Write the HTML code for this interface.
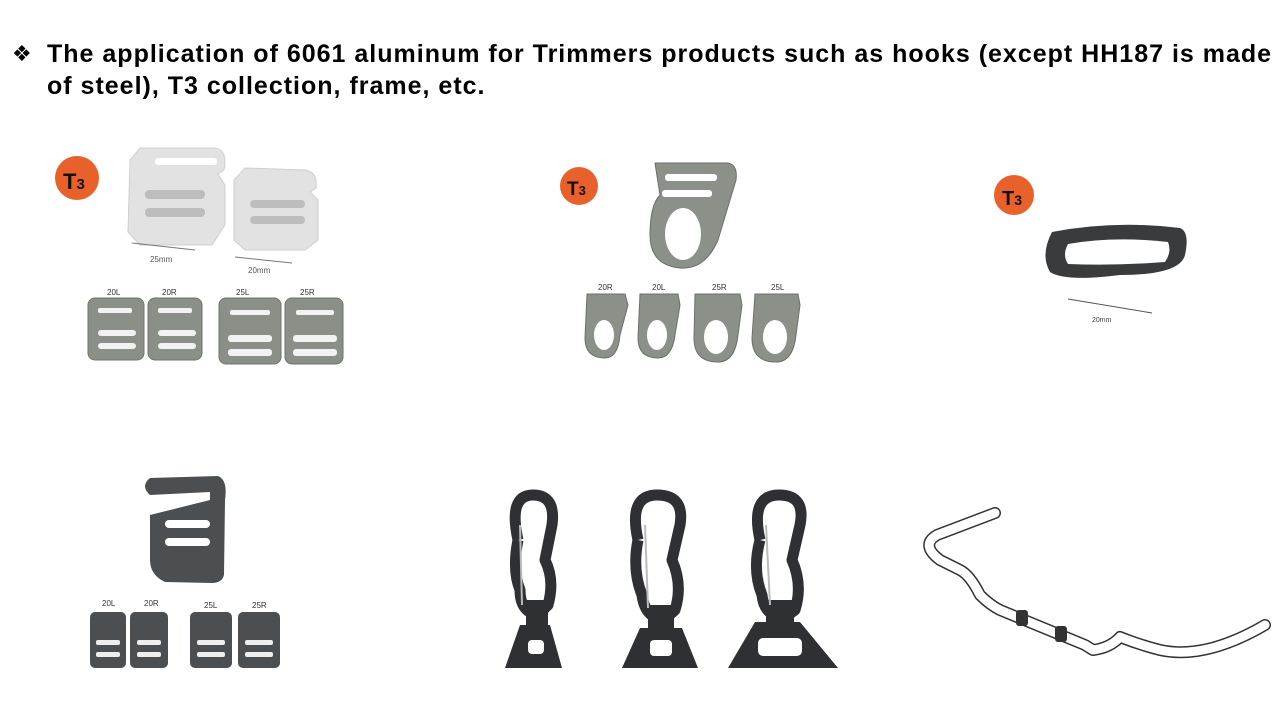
<!DOCTYPE html>
<html><head><meta charset="utf-8"><style>
body{margin:0;width:1280px;height:720px;background:#fff;overflow:hidden;position:relative;font-family:"Liberation Sans",Arial,sans-serif}
.t{position:absolute;left:47px;font-weight:bold;font-size:25px;color:#000;white-space:nowrap;letter-spacing:1px}
</style></head><body>
<div style="position:absolute;left:12px;top:42px;font-size:22px;font-family:'DejaVu Sans',sans-serif">❖</div>
<div class="t" style="top:40px">The application of 6061 aluminum for Trimmers products such as hooks (except HH187 is made</div>
<div class="t" style="top:72px">of steel), T3 collection, frame, etc.</div>
<svg width="1280" height="720" style="position:absolute;left:0;top:0" font-family="Liberation Sans,sans-serif">
<!-- T3 badges -->
<g font-weight="bold" fill="#111">
<circle cx="77" cy="178" r="22" fill="#e8612a"/><text x="63" y="189" font-size="22">T<tspan font-size="15">3</tspan></text>
<circle cx="579" cy="186" r="19" fill="#e8612a"/><text x="567" y="195" font-size="19">T<tspan font-size="13">3</tspan></text>
<circle cx="1014" cy="195" r="20" fill="#e8612a"/><text x="1002" y="205" font-size="20">T<tspan font-size="14">3</tspan></text>
</g>
<!-- silver buckles -->
<path d="M140,148 L215,148 Q228,150 224,170 L218,174 L225,185 L225,225 L212,245 L140,245 L128,232 L130,160Z" fill="#e2e2e2" stroke="#cfcfcf"/>
<rect x="155" y="158" width="62" height="7" rx="3" fill="#fff"/>
<rect x="145" y="190" width="60" height="9" rx="4" fill="#bdbdbd"/><rect x="145" y="208" width="60" height="9" rx="4" fill="#bdbdbd"/>
<path d="M245,168 L305,170 Q318,172 316,188 L310,192 L318,200 L318,240 L305,250 L245,250 L234,240 L234,180Z" fill="#e2e2e2" stroke="#cfcfcf"/>
<rect x="250" y="200" width="55" height="8" rx="4" fill="#bdbdbd"/><rect x="250" y="216" width="55" height="8" rx="4" fill="#bdbdbd"/>
<line x1="132" y1="243" x2="195" y2="250" stroke="#777"/><line x1="235" y1="257" x2="292" y2="263" stroke="#777"/>
<text x="150" y="262" font-size="8" fill="#555">25mm</text><text x="248" y="273" font-size="8" fill="#555">20mm</text>
<g font-size="8" fill="#333"><text x="107" y="295">20L</text><text x="162" y="295">20R</text><text x="236" y="295">25L</text><text x="300" y="295">25R</text>
<text x="598" y="290">20R</text><text x="652" y="290">20L</text><text x="712" y="290">25R</text><text x="771" y="290">25L</text>
<text x="102" y="606">20L</text><text x="144" y="606">20R</text><text x="204" y="608">25L</text><text x="252" y="608">25R</text></g>
<g fill="#8a8f87" stroke="#6f736c">
<rect x="88" y="298" width="56" height="62" rx="7"/><rect x="148" y="298" width="54" height="62" rx="7"/>
<rect x="219" y="298" width="62" height="66" rx="7"/><rect x="285" y="298" width="58" height="66" rx="7"/>
</g>
<g fill="#f2f2f2">
<rect x="98" y="308" width="34" height="5" rx="2"/><rect x="98" y="330" width="38" height="6" rx="3"/><rect x="98" y="343" width="38" height="6" rx="3"/>
<rect x="158" y="308" width="34" height="5" rx="2"/><rect x="158" y="330" width="38" height="6" rx="3"/><rect x="158" y="343" width="38" height="6" rx="3"/>
<rect x="230" y="310" width="40" height="5" rx="2"/><rect x="228" y="335" width="44" height="7" rx="3"/><rect x="228" y="349" width="44" height="7" rx="3"/>
<rect x="296" y="310" width="38" height="5" rx="2"/><rect x="293" y="335" width="44" height="7" rx="3"/><rect x="293" y="349" width="44" height="7" rx="3"/>
</g>
<!-- middle top hook -->
<path d="M655,163 L728,163 Q738,165 736,180 L718,240 Q705,270 680,268 Q650,265 650,235 Q650,205 660,195Z" fill="#8b9189" stroke="#6c706a"/>
<rect x="665" y="174" width="52" height="7" rx="3" fill="#fff"/><rect x="662" y="190" width="50" height="7" rx="3" fill="#fff"/>
<ellipse cx="683" cy="234" rx="18" ry="26" fill="#fff"/>
<g fill="#8b9189" stroke="#6c706a">
<path d="M587,294 L625,294 L628,305 L620,335 Q618,358 605,358 Q585,358 585,338Z"/>
<path d="M640,294 L678,294 L680,305 L675,335 Q672,358 658,358 Q638,358 638,338Z"/>
<path d="M695,294 L740,294 L742,305 L738,335 Q735,362 718,362 Q694,362 694,338Z"/>
<path d="M755,294 L798,294 L800,305 L796,335 Q793,362 776,362 Q752,362 752,338Z"/>
</g>
<g fill="#fff"><ellipse cx="604" cy="335" rx="10" ry="15"/><ellipse cx="657" cy="335" rx="10" ry="15"/><ellipse cx="716" cy="337" rx="12" ry="17"/><ellipse cx="775" cy="337" rx="12" ry="17"/></g>
<!-- ring -->
<path d="M1052,232 Q1115,220 1180,228 Q1190,232 1185,255 Q1180,275 1120,275 Q1065,282 1050,272 Q1040,255 1052,232Z" fill="#3a3b3d"/>
<path d="M1068,244 Q1115,236 1168,242 Q1172,252 1165,262 Q1115,266 1068,264 Q1062,255 1068,244Z" fill="#fff"/>
<line x1="1068" y1="299" x2="1152" y2="313" stroke="#555"/><text x="1092" y="322" font-size="7" fill="#444">20mm</text>
<!-- bottom left hook -->
<path d="M150,478 L218,476 Q228,480 225,500 L224,575 Q222,583 212,583 L165,582 Q150,575 150,560 L150,515 L210,500 L210,492 L150,495 Q140,486 150,478Z" fill="#4b4f52"/>
<rect x="165" y="520" width="45" height="8" rx="4" fill="#fff"/><rect x="165" y="538" width="45" height="8" rx="4" fill="#fff"/>
<g fill="#4b4f52">
<rect x="90" y="612" width="36" height="56" rx="5"/><rect x="130" y="612" width="38" height="56" rx="5"/>
<rect x="190" y="612" width="42" height="56" rx="5"/><rect x="238" y="612" width="42" height="56" rx="5"/></g>
<g fill="#eee"><rect x="96" y="640" width="24" height="5" rx="2"/><rect x="96" y="652" width="24" height="5" rx="2"/>
<rect x="137" y="640" width="24" height="5" rx="2"/><rect x="137" y="652" width="24" height="5" rx="2"/>
<rect x="197" y="640" width="28" height="5" rx="2"/><rect x="197" y="652" width="28" height="5" rx="2"/>
<rect x="245" y="640" width="28" height="5" rx="2"/><rect x="245" y="652" width="28" height="5" rx="2"/></g>
<!-- carabiners -->
<g fill="none" stroke="#2f3033" stroke-width="11" stroke-linejoin="round">
<path d="M518,540 Q508,495 533,495 Q556,495 552,525 L545,560 Q555,580 548,605 L538,615 Q520,612 520,590 Q512,570 518,540"/>
<path d="M638,540 Q628,495 657,495 Q685,495 680,525 L672,560 Q683,585 675,610 L664,620 Q645,618 642,595 Q632,570 638,540"/>
<path d="M760,540 Q750,495 779,495 Q806,495 800,525 L792,560 Q803,585 795,610 L784,618 Q764,616 762,595 Q752,570 760,540"/>
</g>
<g fill="#2f3033">
<path d="M520,625 L550,625 L562,668 L505,668Z"/>
<path d="M640,628 L682,628 L698,668 L622,668Z"/>
<path d="M755,622 L800,622 L838,668 L728,668Z"/>
<rect x="526" y="600" width="22" height="25"/><rect x="648" y="605" width="26" height="25"/><rect x="766" y="600" width="28" height="24"/>
</g>
<g fill="#fff"><rect x="528" y="640" width="16" height="14" rx="4"/><rect x="650" y="640" width="22" height="16" rx="4"/><rect x="758" y="638" width="44" height="18" rx="5"/></g>
<g stroke="#bbb" stroke-width="2" fill="none"><path d="M520,525 L522,605"/><path d="M645,525 L648,608"/><path d="M766,525 L770,605"/></g>
<!-- tube frame -->
<g fill="none" stroke-linecap="round" stroke-linejoin="round">
<path d="M995,513 L937,535 Q920,545 940,560 L960,570 Q970,575 980,595 Q990,605 1000,610 L1085,645 L1093,650 Q1110,648 1120,637 Q1140,645 1160,650 Q1205,660 1265,625" stroke="#333" stroke-width="12"/>
<path d="M995,513 L937,535 Q920,545 940,560 L960,570 Q970,575 980,595 Q990,605 1000,610 L1085,645 L1093,650 Q1110,648 1120,637 Q1140,645 1160,650 Q1205,660 1265,625" stroke="#fff" stroke-width="9"/>
</g>
<g fill="#333"><rect x="1016" y="610" width="12" height="16" rx="3"/><rect x="1055" y="626" width="12" height="16" rx="3"/></g>
</svg>
</body></html>
